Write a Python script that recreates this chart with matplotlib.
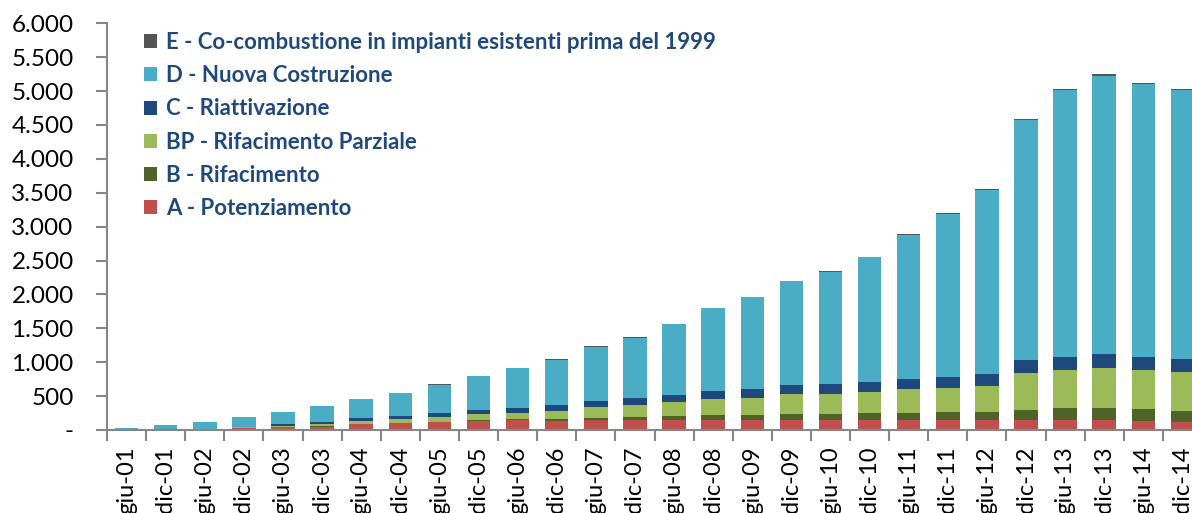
import numpy as np
import matplotlib
matplotlib.use("Agg")
import matplotlib.pyplot as plt
from matplotlib.patches import Patch
from matplotlib.ticker import FuncFormatter, FixedLocator

plt.rcParams['font.family'] = ['Lato', 'DejaVu Sans']

periodi = ['giu-01', 'dic-01', 'giu-02', 'dic-02', 'giu-03', 'dic-03', 'giu-04',
           'dic-04', 'giu-05', 'dic-05', 'giu-06', 'dic-06', 'giu-07', 'dic-07',
           'giu-08', 'dic-08', 'giu-09', 'dic-09', 'giu-10', 'dic-10', 'giu-11',
           'dic-11', 'giu-12', 'dic-12', 'giu-13', 'dic-13', 'giu-14', 'dic-14']

# valori in MW per categoria d'intervento
a_potenziamento = [3, 5, 8, 30, 40, 49, 84, 98, 113, 137, 143, 133, 143, 148,
                   148, 148, 148, 148, 148, 143, 148, 148, 148, 143, 152, 152, 137, 118]
b_rifacimento = [0, 0, 1, 2, 3, 5, 5, 5, 5, 10, 14, 24, 38, 44,
                 58, 69, 73, 84, 84, 103, 98, 113, 113, 156, 168, 168, 168, 167]
bp_rif_parziale = [0, 2, 4, 8, 20, 34, 48, 55, 74, 84, 98, 128, 158, 177,
                   207, 236, 255, 295, 304, 319, 354, 354, 383, 542, 565, 590, 580, 571]
c_riattivazione = [0, 2, 3, 9, 21, 25, 44, 48, 54, 64, 69, 79, 89, 103,
                   108, 118, 124, 137, 142, 147, 147, 167, 177, 187, 187, 206, 196, 191]
d_nuova_costr = [27, 65, 97, 145, 183, 241, 271, 335, 422, 496, 588, 676, 798, 892,
                 1038, 1224, 1356, 1528, 1657, 1834, 2134, 2409, 2722, 3552, 3944, 4110, 4023, 3966]
e_cocombustione = [0, 0, 0, 2, 3, 4, 5, 5, 6, 6, 7, 7, 8, 8,
                   9, 9, 10, 10, 10, 10, 10, 10, 12, 12, 14, 20, 14, 12]

serie = [
    ('A - Potenziamento', a_potenziamento, '#C0504D'),
    ('B - Rifacimento', b_rifacimento, '#4F6228'),
    ('BP - Rifacimento Parziale', bp_rif_parziale, '#9BBB59'),
    ('C - Riattivazione', c_riattivazione, '#1F497D'),
    ('D - Nuova Costruzione', d_nuova_costr, '#4BACC6'),
    ('E - Co-combustione in impianti esistenti prima del 1999', e_cocombustione, '#555555'),
]

W, H = 1192, 513
fig = plt.figure(figsize=(W / 100, H / 100), dpi=100)
# l'asse prosegue oltre il bordo destro come nell'originale
ax = fig.add_axes([107 / W, (H - 430) / H, (1202 - 107) / W, (430 - 23.3) / H])

x = np.arange(len(periodi))
base = np.zeros(len(periodi))
for nome, vals, col in serie:
    ax.bar(x, vals, 0.6, bottom=base, color=col, edgecolor='none', linewidth=0)
    base += np.array(vals)

ax.set_xlim(-0.5, len(periodi) - 0.5)
ax.set_ylim(0, 6000)

grey = '#868686'
for s in ['top', 'right']:
    ax.spines[s].set_visible(False)
for s in ['left', 'bottom']:
    ax.spines[s].set_color(grey)
    ax.spines[s].set_linewidth(1.5)

ax.set_yticks(np.arange(0, 6001, 500))
ax.yaxis.set_major_formatter(FuncFormatter(
    lambda v, p: '-' if v == 0 else f'{int(v):,}'.replace(',', '.')))
ax.tick_params(axis='y', length=8, width=1.5, color=grey, pad=16,
               labelsize=17.5, labelcolor='black')

ax.set_xticks(x)
ax.set_xticklabels(periodi, rotation=90, va='top', ha='center')
ax.tick_params(axis='x', which='major', length=0, pad=12, labelsize=17)
ax.xaxis.set_minor_locator(FixedLocator(np.arange(-0.5, len(periodi), 1)))
ax.tick_params(axis='x', which='minor', length=8, width=1.5, color=grey)

handles = [Patch(facecolor=col, edgecolor='none', label=nome) for nome, _, col in serie][::-1]
leg = ax.legend(handles=handles, loc='upper left', bbox_to_anchor=(144 / W, 1 - 32 / H),
                bbox_transform=fig.transFigure, frameon=False,
                prop={'weight': 'bold', 'size': 16}, labelcolor='#1F497D',
                handlelength=0.58, handleheight=0.58, handletextpad=0.42,
                labelspacing=0.55, borderpad=0, borderaxespad=0)

fig.savefig('out.png', dpi=100)
